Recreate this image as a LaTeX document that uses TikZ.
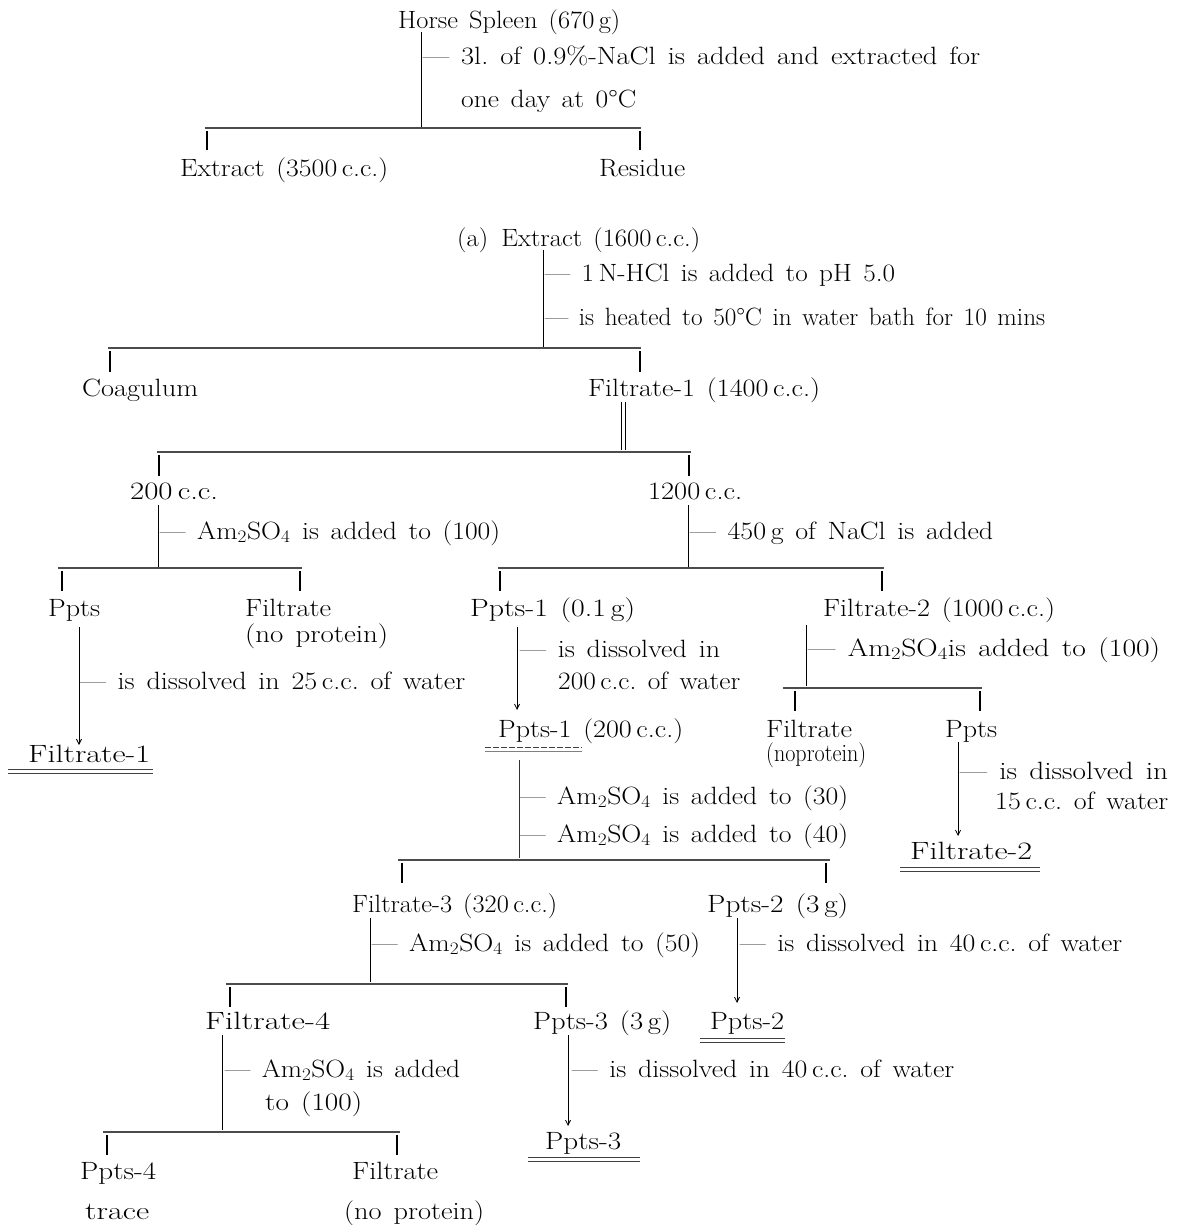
\documentclass[tikz,border=0pt]{standalone}
\usetikzlibrary{arrows.meta}
\newcommand{\AmS}{Am\textsubscript{2}SO\textsubscript{4}}
\newcommand{\W}[2]{\resizebox{#1pt}{\height}{#2}}
\begin{document}
\frenchspacing
\begin{tikzpicture}[x=1pt,y=-1pt,
  font={\fontsize{25}{30}\selectfont\spaceskip=0.42em\relax},
  txt/.style={anchor=base west, inner sep=0pt, yshift=-9pt},
  ln/.style={line width=0.8pt},
  bar/.style={line width=1.1pt, black!70},
  tick/.style={line width=1.6pt},
  arr/.style={line width=0.8pt, -{Straight Barb[length=5pt,width=5pt]}},
  dbl/.style={line width=0.9pt, black!75}]
\useasboundingbox (0,0) rectangle (1179,1225);

% ---------- texts ----------
\node[txt] (hs)   at (398,20)  {\W{222}{Horse Spleen (670\,g)}};
\node[txt] (s1)   at (423,56)  {\W{557}{--- 3l. of 0.9\%-NaCl is added and extracted for}};
\node[txt] (s1b)  at (461,99)  {\W{175}{one day at 0°C}};
\node[txt] (ex1)  at (180,168) {\W{208}{Extract (3500\,c.c.)}};
\node[txt] (res)  at (599,168) {\W{86}{Residue}};

\node[txt] (ex2)  at (457,237) {\W{243}{(a)\enspace Extract (1600\,c.c.)}};
\node[txt] (s2)   at (545,272) {\W{350}{--- 1\,N-HCl is added to pH 5.0}};
\node[txt] (s3)   at (545,316) {\W{500}{--- is heated to 50°C in water bath for 10 mins}};
\node[txt] (coag) at (82,387)  {\W{116}{Coagulum}};
\node[txt] (f1)   at (588,387) {\W{232}{Filtrate-1 (1400\,c.c.)}};

\node[txt] (c200)  at (130,490) {\W{88}{200\,c.c.}};
\node[txt] (c1200) at (648,490) {\W{94}{1200\,c.c.}};
\node[txt] (s4)    at (160,530) {\W{340}{--- \AmS{} is added to (100)}};
\node[txt] (s5)    at (690,530) {\W{303}{--- 450\,g of NaCl is added}};

\node[txt] (pp)    at (48,607)  {\W{52}{Ppts}};
\node[txt] (fn)    at (245,607) {\W{86}{Filtrate}};
\node[txt] (fnb)   at (245,633) {\W{143}{(no protein)}};
\node[txt] (pp1)   at (470,607) {\W{165}{Ppts-1 (0.1\,g)}};
\node[txt] (f2)    at (823,607) {\W{232}{Filtrate-2 (1000\,c.c.)}};

\node[txt] (s6)    at (80,680)  {\W{385}{--- is dissolved in 25\,c.c. of water}};
\node[txt] (s7)    at (520,648) {\W{200}{--- is dissolved in}};
\node[txt] (s7b)   at (558,680) {\W{182}{200\,c.c. of water}};
\node[txt] (s8)    at (808,647) {\W{352}{--- \AmS is added to (100)}};

\node[txt] (f1r)   at (28,753)  {\W{122}{Filtrate-1}};
\node[txt] (pp1b)  at (498,728) {\W{185}{Ppts-1 (200\,c.c.)}};
\node[txt] (fn2)   at (766,728) {\W{86}{Filtrate}};
\node[txt] (fn2b)  at (766,752) {\W{100}{(noprotein)}};
\node[txt] (pps2)  at (945,728) {\W{52}{Ppts}};
\node[txt] (s9)    at (960,770) {\W{208}{--- is dissolved in}};
\node[txt] (s9b)   at (995,800) {\W{173}{15\,c.c. of water}};
\node[txt] (s10)   at (520,795) {\W{328}{--- \AmS{} is added to (30)}};
\node[txt] (s11)   at (520,833) {\W{328}{--- \AmS{} is added to (40)}};
\node[txt] (f2r)   at (910,850) {\W{122}{Filtrate-2}};

\node[txt] (f3)    at (352,903) {\W{205}{Filtrate-3 (320\,c.c.)}};
\node[txt] (pp2)   at (707,903) {\W{141}{Ppts-2 (3\,g)}};
\node[txt] (s12)   at (372,942) {\W{328}{--- \AmS{} is added to (50)}};
\node[txt] (s13)   at (740,942) {\W{382}{--- is dissolved in 40\,c.c. of water}};

\node[txt] (f4)    at (205,1020) {\W{125}{Filtrate-4}};
\node[txt] (pp3)   at (533,1020) {\W{138}{Ppts-3 (3\,g)}};
\node[txt] (pp2r)  at (710,1020) {\W{74}{Ppts-2}};
\node[txt] (s14)   at (225,1068) {\W{235}{--- \AmS{} is added}};
\node[txt] (s14b)  at (265,1101) {\W{97}{to (100)}};
\node[txt] (s15)   at (572,1068) {\W{382}{--- is dissolved in 40\,c.c. of water}};
\node[txt] (pp3r)  at (545,1140) {\W{76}{Ppts-3}};

\node[txt] (pp4)   at (80,1170)  {\W{76}{Ppts-4}};
\node[txt] (fn3)   at (352,1170) {\W{86}{Filtrate}};
\node[txt] (tr)    at (85,1210)  {\W{64}{trace}};
\node[txt] (fn3b)  at (344,1210) {\W{140}{(no protein)}};

% ---------- split 1 : Horse spleen ----------
\coordinate (a1) at (421,32);  \coordinate (j1) at (421,128);
\coordinate (l1) at (205,128); \coordinate (r1) at (641,128);
\draw[ln] (a1) -- (j1);
\draw[bar] (l1) -- (r1);
\draw[tick] (207,131) -- (207,150);
\draw[tick] (640,131) -- (640,150);

% ---------- split 2 : Extract (a) ----------
\coordinate (a2) at (543,250); \coordinate (j2) at (543,348);
\coordinate (l2) at (108,348); \coordinate (r2) at (641,348);
\draw[ln] (a2) -- (j2);
\draw[bar] (l2) -- (r2);
\draw[tick] (110,351) -- (110,372);
\draw[tick] (640,351) -- (640,372);

% ---------- split 3 : Filtrate-1 (double line) ----------
\coordinate (a3) at (623,402); \coordinate (j3) at (623,450);
\draw[ln] ([xshift=-2pt]a3) -- ([xshift=-2pt]j3);
\draw[ln] ([xshift=2pt]a3) -- ([xshift=2pt]j3);
\coordinate (l3) at (157,452); \coordinate (r3) at (691,452);
\draw[bar] (l3) -- (r3);
\draw[tick] (159,455) -- (159,476);
\draw[tick] (689,455) -- (689,476);

% ---------- split 4 : 200 c.c. ----------
\coordinate (a4) at (158,505); \coordinate (j4) at (158,567);
\draw[ln] (a4) -- (j4);
\draw[bar] (58,568) -- (302,568);
\draw[tick] (62,571) -- (62,591);
\draw[tick] (300,571) -- (300,591);

% ---------- split 5 : 1200 c.c. ----------
\coordinate (a5) at (688,505); \coordinate (j5) at (688,567);
\draw[ln] (a5) -- (j5);
\draw[bar] (498,568) -- (884,568);
\draw[tick] (500,571) -- (500,591);
\draw[tick] (882,571) -- (882,591);

% ---------- Ppts -> Filtrate-1 ----------
\coordinate (a6) at (79,627); \coordinate (b6) at (79,745);
\draw[arr] (a6) -- (b6);
\draw[dbl] (8,769) -- (153,769);
\draw[dbl] (8,773) -- (153,773);

% ---------- Ppts-1 -> Ppts-1 (200) ----------
\coordinate (a7) at (517,627); \coordinate (b7) at (517,710);
\draw[arr] (a7) -- (b7);
\draw[dbl, dash pattern=on 6pt off 2pt] (485,747) -- (582,747);
\draw[dbl, black!50] (485,751) -- (582,751);

% ---------- split 8 : Filtrate-2 ----------
\coordinate (a8) at (806,625); \coordinate (j8) at (806,686);
\draw[ln] (a8) -- (j8);
\draw[bar] (783,688) -- (982,688);
\draw[tick] (795,691) -- (795,711);
\draw[tick] (980,691) -- (980,711);

% ---------- Ppts -> Filtrate-2 ----------
\coordinate (a9) at (958,742); \coordinate (b9) at (958,836);
\draw[arr] (a9) -- (b9);
\draw[dbl] (900,867) -- (1040,867);
\draw[dbl] (900,871) -- (1040,871);

% ---------- split 10 : Ppts-1 (200) ----------
\coordinate (a10) at (519,760); \coordinate (j10) at (519,858);
\draw[ln, black!80] (a10) -- (j10);
\draw[bar] (398,860) -- (830,860);
\draw[tick] (402,863) -- (402,883);
\draw[tick] (826,863) -- (826,883);

% ---------- split 11 : Filtrate-3 ----------
\coordinate (a11) at (370,918); \coordinate (j11) at (370,982);
\draw[ln] (a11) -- (j11);
\draw[bar] (226,984) -- (568,984);
\draw[tick] (230,987) -- (230,1007);
\draw[tick] (566,987) -- (566,1007);

% ---------- Ppts-2 -> Ppts-2 ----------
\coordinate (a12) at (737,918); \coordinate (b12) at (737,1003);
\draw[arr] (a12) -- (b12);
\draw[dbl] (700,1038) -- (785,1038);
\draw[dbl] (700,1042) -- (785,1042);

% ---------- Ppts-3 -> Ppts-3 ----------
\coordinate (a13) at (568,1035); \coordinate (b13) at (568,1126);
\draw[arr] (a13) -- (b13);
\draw[dbl] (528,1157) -- (640,1157);
\draw[dbl] (528,1161) -- (640,1161);

% ---------- split 14 : Filtrate-4 ----------
\coordinate (a14) at (222,1035); \coordinate (j14) at (222,1130);
\draw[ln] (a14) -- (j14);
\draw[bar] (103,1132) -- (400,1132);
\draw[tick] (107,1135) -- (107,1155);
\draw[tick] (397,1135) -- (397,1155);
\end{tikzpicture}
\end{document}
